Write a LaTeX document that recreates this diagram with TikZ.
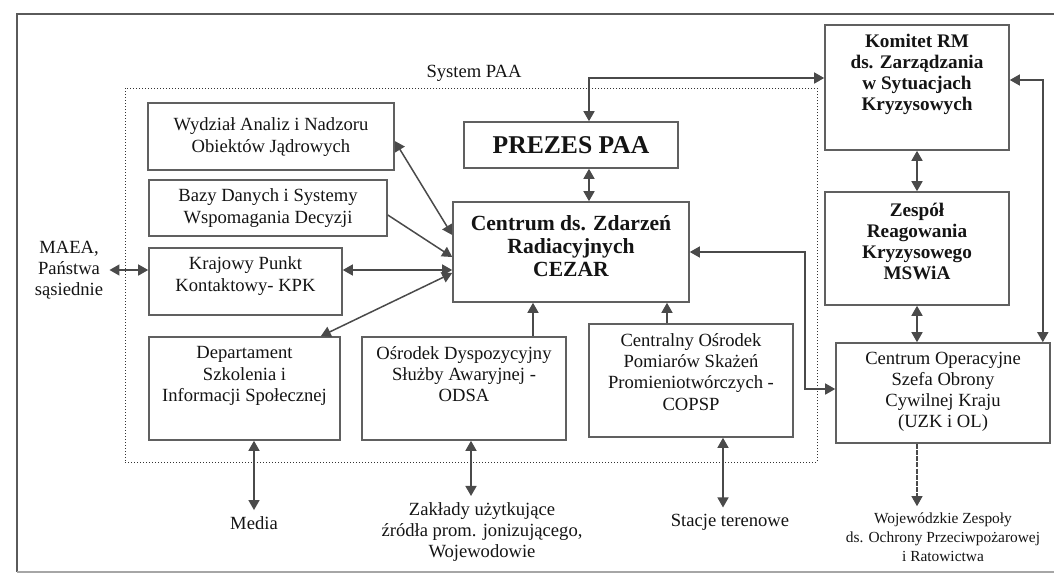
\documentclass[tikz,border=0pt]{standalone}
\usepackage{fontspec}
\setmainfont{Liberation Serif}
\usetikzlibrary{arrows.meta,fit,calc}
\definecolor{linec}{HTML}{4A4A4A}
\definecolor{boxc}{HTML}{606060}
\definecolor{txtc}{HTML}{141414}
\definecolor{framec}{HTML}{5A5A5A}
\begin{document}
\begin{tikzpicture}[x=0.5pt,y=-0.5pt,
  box/.style={draw=boxc, line width=0.8pt, inner sep=0pt},
  sysbox/.style={draw=black!80, densely dotted, line width=0.5pt, inner sep=0pt},
  t/.style={font=\fontsize{9.3}{10.6}\selectfont, align=center, text=txtc, inner sep=0pt},
  ext/.style={t, inner sep=3pt},
  tb/.style={font=\bfseries\fontsize{9.6}{10.5}\selectfont, align=center, text=txtc, inner sep=0pt},
  tbig/.style={font=\bfseries\fontsize{10.8}{11.5}\selectfont, align=center, text=txtc, inner sep=0pt},
  tsmall/.style={font=\fontsize{7.7}{9.5}\selectfont, align=center, text=txtc, inner sep=3pt},
  conn/.style={draw=linec, line width=0.75pt},
  dbl/.style={conn, {Triangle[length=5pt,width=5.5pt]}-{Triangle[length=5pt,width=5.5pt]}},
  one/.style={conn, -{Triangle[length=5pt,width=5.5pt]}}
]
\useasboundingbox (0,0) rectangle (1054,574);
\fill[white] (0,0) rectangle (1054,574);
% outer frame
\draw[framec, line width=1pt] (1054,14) -- (17,14) -- (17,572);
\draw[black!35, line width=0.8pt] (17,572) -- (1054,572);

% system PAA dotted area
\node[sysbox, fit={(125,88) (817,462)}] (sys) {};
\node[t] (syslab) at (474,73) {System PAA};

% boxes
\node[box, fit={(148,103) (394,170)}] (wyd) {};
\node[box, fit={(149,180) (387,236)}] (baz) {};
\node[box, fit={(149,248) (342,315)}] (kpk) {};
\node[box, fit={(149,337) (340,440)}] (dep) {};
\node[box, fit={(362,337) (566,440)}] (odsa) {};
\node[box, fit={(589,324) (793,437)}] (copsp) {};
\node[box, fit={(464,122) (678,168)}] (prezes) {};
\node[box, fit={(453,202) (689,302)}] (cezar) {};
\node[box, fit={(825,25) (1009,150)}] (komitet) {};
\node[box, fit={(825,192) (1009,305)}] (zespol) {};
\node[box, fit={(836,343) (1050,443)}] (co) {};

% box texts
\node[t] (wydT) at (271,137) {Wydział Analiz i Nadzoru\\Obiektów Jądrowych};
\node[t] (bazT) at (268,208) {Bazy Danych i Systemy\\Wspomagania Decyzji};
\node[t] (kpkT) at (245.5,276) {Krajowy Punkt\\Kontaktowy- KPK};
\node[t] (depT) at (244.5,376) {Departament\\Szkolenia i\\Informacji Społecznej};
\node[t] (odsaT) at (464,374) {Ośrodek Dyspozycyjny\\Służby Awaryjnej -\\ODSA};
\node[t] (copspT) at (691,372) {Centralny Ośrodek\\Pomiarów Skażeń\\Promieniotwórczych -\\COPSP};
\node[font=\bfseries\fontsize{12.8}{14}\selectfont, text=txtc, inner sep=0pt] (prezesT) at (571,145) {PREZES PAA};
\node[tbig] (cezarT) at (571,246) {Centrum ds. Zdarzeń\\Radiacyjnych\\CEZAR};
\node[tb] (komitetT) at (917,74) {Komitet RM\\ds. Zarządzania\\w Sytuacjach\\Kryzysowych};
\node[tb] (zespolT) at (917,241) {Zespół\\Reagowania\\Kryzysowego\\MSWiA};
\node[t] (coT) at (943,392) {Centrum Operacyjne\\Szefa Obrony\\Cywilnej Kraju\\(UZK i OL)};

% external texts
\node[ext] (maea) at (69,270) {MAEA,\\Państwa\\sąsiednie};
\node[ext] (media) at (254,523) {Media};
\node[ext] (zak) at (482,532) {Zakłady użytkujące\\źródła prom. jonizującego,\\Wojewodowie};
\node[ext] (stacje) at (730,522) {Stacje terenowe};
\node[tsmall] (woj) at (943,537) {Wojewódzkie Zespoły\\ds. Ochrony Przeciwpożarowej\\i Ratowictwa};

% connectors
\draw[dbl] ([xshift=9pt]prezes.north) |- ([yshift=4.75pt]komitet.west);
\draw[dbl] ([xshift=9pt]prezes.south) -- ([xshift=9pt]prezes.south |- cezar.north);
\draw[dbl] ([yshift=-2.25pt]wyd.east) -- ([yshift=8.5pt]cezar.west);
\draw[one] ([yshift=-3.5pt]baz.east) -- ([yshift=-2.5pt]cezar.west);
\draw[dbl] ([yshift=5.75pt]kpk.east) -- ([yshift=5.75pt]kpk.east -| cezar.west);
\draw[dbl] ([xshift=-10pt]dep.north east) -- ([yshift=-10.5pt]cezar.west);
\draw[one] ([xshift=34.5pt]odsa.north) -- ([xshift=34.5pt]odsa.north |- cezar.south);
\draw[one] ([xshift=-12pt]copsp.north) -- ([xshift=-12pt]copsp.north |- cezar.south);
\draw[dbl] (cezar.east) -- ++(115,0) |- ([yshift=2pt]co.west);
\draw[dbl] (komitet.south) -- (komitet.south |- zespol.north);
\draw[dbl] (zespol.south) -- (zespol.south |- co.north);
\draw[dbl] ([xshift=-4pt]co.north east) |- ([yshift=3.75pt]komitet.east);
\draw[one, line width=0.55pt, dash pattern=on 2.5pt off 0.6pt] ([xshift=-13pt]co.south) -- ([xshift=-13pt]co.south |- woj.north);
\draw[dbl] ([yshift=5.75pt]kpk.west) -- ([yshift=5.75pt]kpk.west -| maea.east);
\draw[dbl] (dep.south -| media.north) -- (media.north);
\draw[dbl] ([xshift=3.5pt]odsa.south) -- ([xshift=3.5pt]odsa.south |- zak.north);
\draw[dbl] ([xshift=16pt]copsp.south) -- ([xshift=16pt]copsp.south |- stacje.north);
\end{tikzpicture}
\end{document}
